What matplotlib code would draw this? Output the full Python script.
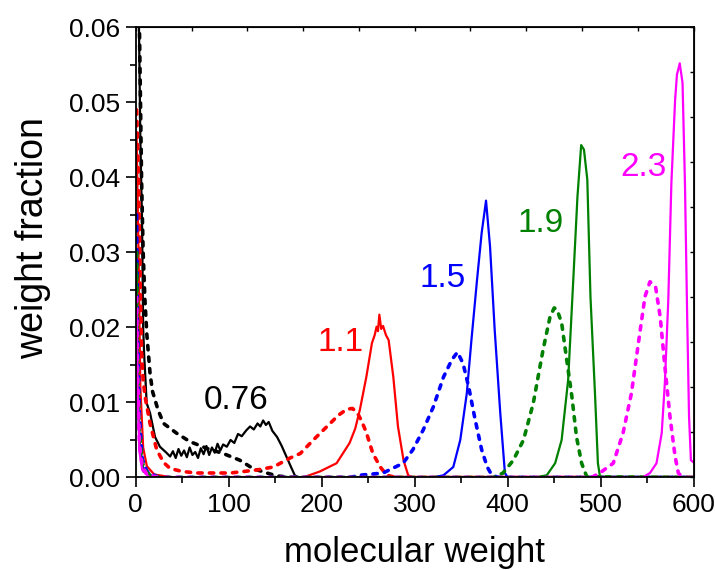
import numpy as np
import matplotlib
matplotlib.use("Agg")
import matplotlib.pyplot as plt
from matplotlib.ticker import MultipleLocator, NullFormatter

plt.rcParams['font.family'] = ['Liberation Sans', 'DejaVu Sans']

# ---- data (molecular weight, weight fraction) ----
black_solid_x = [1, 3, 5, 6.8, 8, 9, 11.8, 15.4, 20.8, 26, 33, 37, 40, 43, 46, 49, 52, 55, 58,
                 61, 64, 67, 70, 73, 76, 79, 82, 85, 88, 91, 94, 98, 102, 106, 110, 114, 119,
                 123, 127, 131, 134, 137, 140, 143, 147, 152, 157, 162, 167, 171, 175, 600]
black_solid_y = [0.09, 0.065, 0.045, 0.034, 0.02, 0.0166, 0.0099, 0.0086, 0.0054, 0.0041, 0.0033,
                 0.0028, 0.0035, 0.0026, 0.0038, 0.0029, 0.0036, 0.0027, 0.0040, 0.0030, 0.0034,
                 0.0026, 0.0039, 0.0031, 0.0042, 0.0030, 0.0040, 0.0033, 0.0045, 0.0036, 0.0044,
                 0.0041, 0.0050, 0.0046, 0.0058, 0.0055, 0.0063, 0.0068, 0.0064, 0.0072, 0.0068,
                 0.0076, 0.0070, 0.0074, 0.0062, 0.0054, 0.0042, 0.0028, 0.0014, 0.0003, 0, 0]

black_dash_x = [1, 4, 6.3, 8, 9.9, 12, 15.4, 18, 24, 30, 44, 58, 76, 94, 112, 126, 141, 152, 170, 600]
black_dash_y = [0.09, 0.06, 0.0397, 0.03, 0.0237, 0.019, 0.0139, 0.0115, 0.009, 0.0072, 0.0059,
                0.0048, 0.0039, 0.0032, 0.0023, 0.0012, 0.0006, 0.0002, 0, 0]

red_solid_x = [1, 3, 5, 8, 12, 20, 40, 180, 198, 216, 230, 236, 241, 248, 254, 257, 259, 260.5,
               262, 264, 266, 269, 272, 277, 282, 288, 293, 298, 600]
red_solid_y = [0.045, 0.03, 0.012, 0.004, 0.0015, 0.0004, 0, 0, 0.0008, 0.0019, 0.0046, 0.0065,
               0.009, 0.0134, 0.0179, 0.019, 0.0201, 0.0195, 0.0217, 0.0198, 0.0202, 0.019,
               0.0183, 0.0134, 0.0068, 0.0023, 0.0003, 0, 0]

red_dash_x = [1, 3, 5, 6.4, 8, 10, 15.4, 22.6, 30, 37, 50, 66, 102, 130, 148, 166, 177, 184, 191,
              200, 209, 218, 227, 233, 238, 243, 248, 255, 263, 270, 280, 600]
red_dash_y = [0.049, 0.04, 0.025, 0.0166, 0.013, 0.0108, 0.0072, 0.0037, 0.002, 0.0012, 0.0008,
              0.0006, 0.0006, 0.001, 0.0014, 0.0026, 0.0032, 0.0041, 0.005, 0.0061, 0.0072,
              0.0083, 0.0091, 0.0092, 0.0087, 0.0075, 0.006, 0.0032, 0.0014, 0.0003, 0, 0]

blue_solid_x = [1, 2, 4, 8, 20, 320, 331, 341.5, 349, 356, 361, 367, 372, 376.7, 381, 386, 392,
                397, 400, 600]
blue_solid_y = [0.03, 0.015, 0.005, 0.001, 0, 0, 0.0003, 0.0014, 0.005, 0.0112, 0.0183, 0.0263,
                0.0326, 0.0369, 0.0308, 0.0197, 0.0086, 0.0006, 0, 0]

blue_dash_x = [1, 2, 4, 7, 12, 25, 230, 241, 266, 287.5, 298, 309, 320, 331, 340, 346, 352, 358,
               365, 372, 378, 383, 390, 600]
blue_dash_y = [0.035, 0.02, 0.008, 0.0025, 0.0008, 0, 0, 0.0003, 0.0006, 0.0019, 0.0037, 0.0063,
               0.0094, 0.0134, 0.0157, 0.0167, 0.0152, 0.0121, 0.0077, 0.0037, 0.0014, 0.0003, 0, 0]

green_solid_x = [1, 2, 4, 8, 20, 430, 442, 451, 458, 465, 470.5, 475, 479, 482, 485.6, 489, 494,
                 497, 499, 502, 600]
green_solid_y = [0.028, 0.014, 0.004, 0.0008, 0, 0, 0.0003, 0.0019, 0.005, 0.013, 0.0263, 0.0374,
                 0.0443, 0.0437, 0.0397, 0.0241, 0.0108, 0.0019, 0.0003, 0, 0]

green_dash_x = [1, 2, 4, 7, 12, 25, 385, 395, 406, 417, 427.5, 438, 445.5, 450, 453, 458, 463,
                469, 474, 479.5, 485, 600]
green_dash_y = [0.03, 0.017, 0.006, 0.002, 0.0006, 0, 0, 0.0006, 0.0023, 0.005, 0.0099, 0.017,
                0.0214, 0.0226, 0.0224, 0.0206, 0.0161, 0.0108, 0.0054, 0.0019, 0.0001, 0]

magenta_solid_x = [1, 2, 4, 7, 15, 545, 553, 560, 565.6, 569, 572.7, 576, 580, 582, 585, 588,
                   590.6, 593, 595, 597, 600]
magenta_solid_y = [0.022, 0.012, 0.0035, 0.001, 0, 0, 0.0006, 0.0019, 0.0059, 0.0126, 0.0237,
                   0.0392, 0.0503, 0.0537, 0.0552, 0.0526, 0.0392, 0.0214, 0.0081, 0.0023, 0.002]

magenta_dash_x = [1, 2, 4, 7, 12, 25, 490, 499, 513.5, 524, 533, 542, 547.6, 553, 559, 564, 569,
                  574.5, 580, 583.5, 588, 600]
magenta_dash_y = [0.024, 0.014, 0.0045, 0.0015, 0.0004, 0, 0, 0.0006, 0.0019, 0.0059, 0.0112,
                  0.0192, 0.0241, 0.0261, 0.0254, 0.0214, 0.0148, 0.0081, 0.0028, 0.0006, 0, 0]

labels = ['0.76', '1.1', '1.5', '1.9', '2.3']
label_x = [108, 220, 329.5, 435, 546]
label_y = [0.0102, 0.0180, 0.0265, 0.0338, 0.0413]
colors = ['black', '#ff0000', '#0000ff', '#008000', '#ff00ff']

solids = [(black_solid_x, black_solid_y), (red_solid_x, red_solid_y), (blue_solid_x, blue_solid_y),
          (green_solid_x, green_solid_y), (magenta_solid_x, magenta_solid_y)]
dashes = [(black_dash_x, black_dash_y), (red_dash_x, red_dash_y), (blue_dash_x, blue_dash_y),
          (green_dash_x, green_dash_y), (magenta_dash_x, magenta_dash_y)]

fig = plt.figure(figsize=(7.15, 5.7), dpi=100)
ax = fig.add_axes([0.1898, 0.1623, 0.7804, 0.7898])

for c, (sx, sy), (dx, dy) in zip(colors, solids, dashes):
    ax.plot(sx, sy, color=c, lw=1.6)
    ax.plot(dx, dy, color=c, lw=2.6, linestyle=(0, (1.2, 2.0)), dash_capstyle='round')

for t, x, y, c in zip(labels, label_x, label_y, colors):
    ax.text(x, y, t, color=c, fontsize=24, ha='center', va='center')

ax.set_xlim(0, 600)
ax.set_ylim(0, 0.06)
ax.xaxis.set_major_locator(MultipleLocator(100))
ax.xaxis.set_minor_locator(MultipleLocator(50))
ax.yaxis.set_major_locator(MultipleLocator(0.01))
ax.yaxis.set_minor_locator(MultipleLocator(0.005))
ax.yaxis.set_major_formatter(matplotlib.ticker.FormatStrFormatter('%.2f'))
ax.tick_params(which='major', direction='out', length=7, width=1.2, labelsize=19, pad=4)
ax.tick_params(which='minor', direction='out', length=4, width=1.2)
for s in ax.spines.values():
    s.set_linewidth(1.3)

top = ax.secondary_xaxis('top')
top.set_xticks(np.linspace(0, 600, 11))
top.xaxis.set_major_formatter(NullFormatter())
top.tick_params(direction='in', length=3, width=1.0)
right = ax.secondary_yaxis('right')
right.set_yticks(np.linspace(0, 0.06, 11))
right.yaxis.set_major_formatter(NullFormatter())
right.tick_params(direction='in', length=3, width=1.0)

fig.text(414.7 / 715, 1 - 562 / 570, 'molecular weight', fontsize=25, ha='center', va='baseline')
fig.text(33 / 715, 1 - 238 / 570, 'weight fraction', fontsize=27, ha='center', va='center',
         rotation=90)

fig.savefig('out.png', dpi=100)
